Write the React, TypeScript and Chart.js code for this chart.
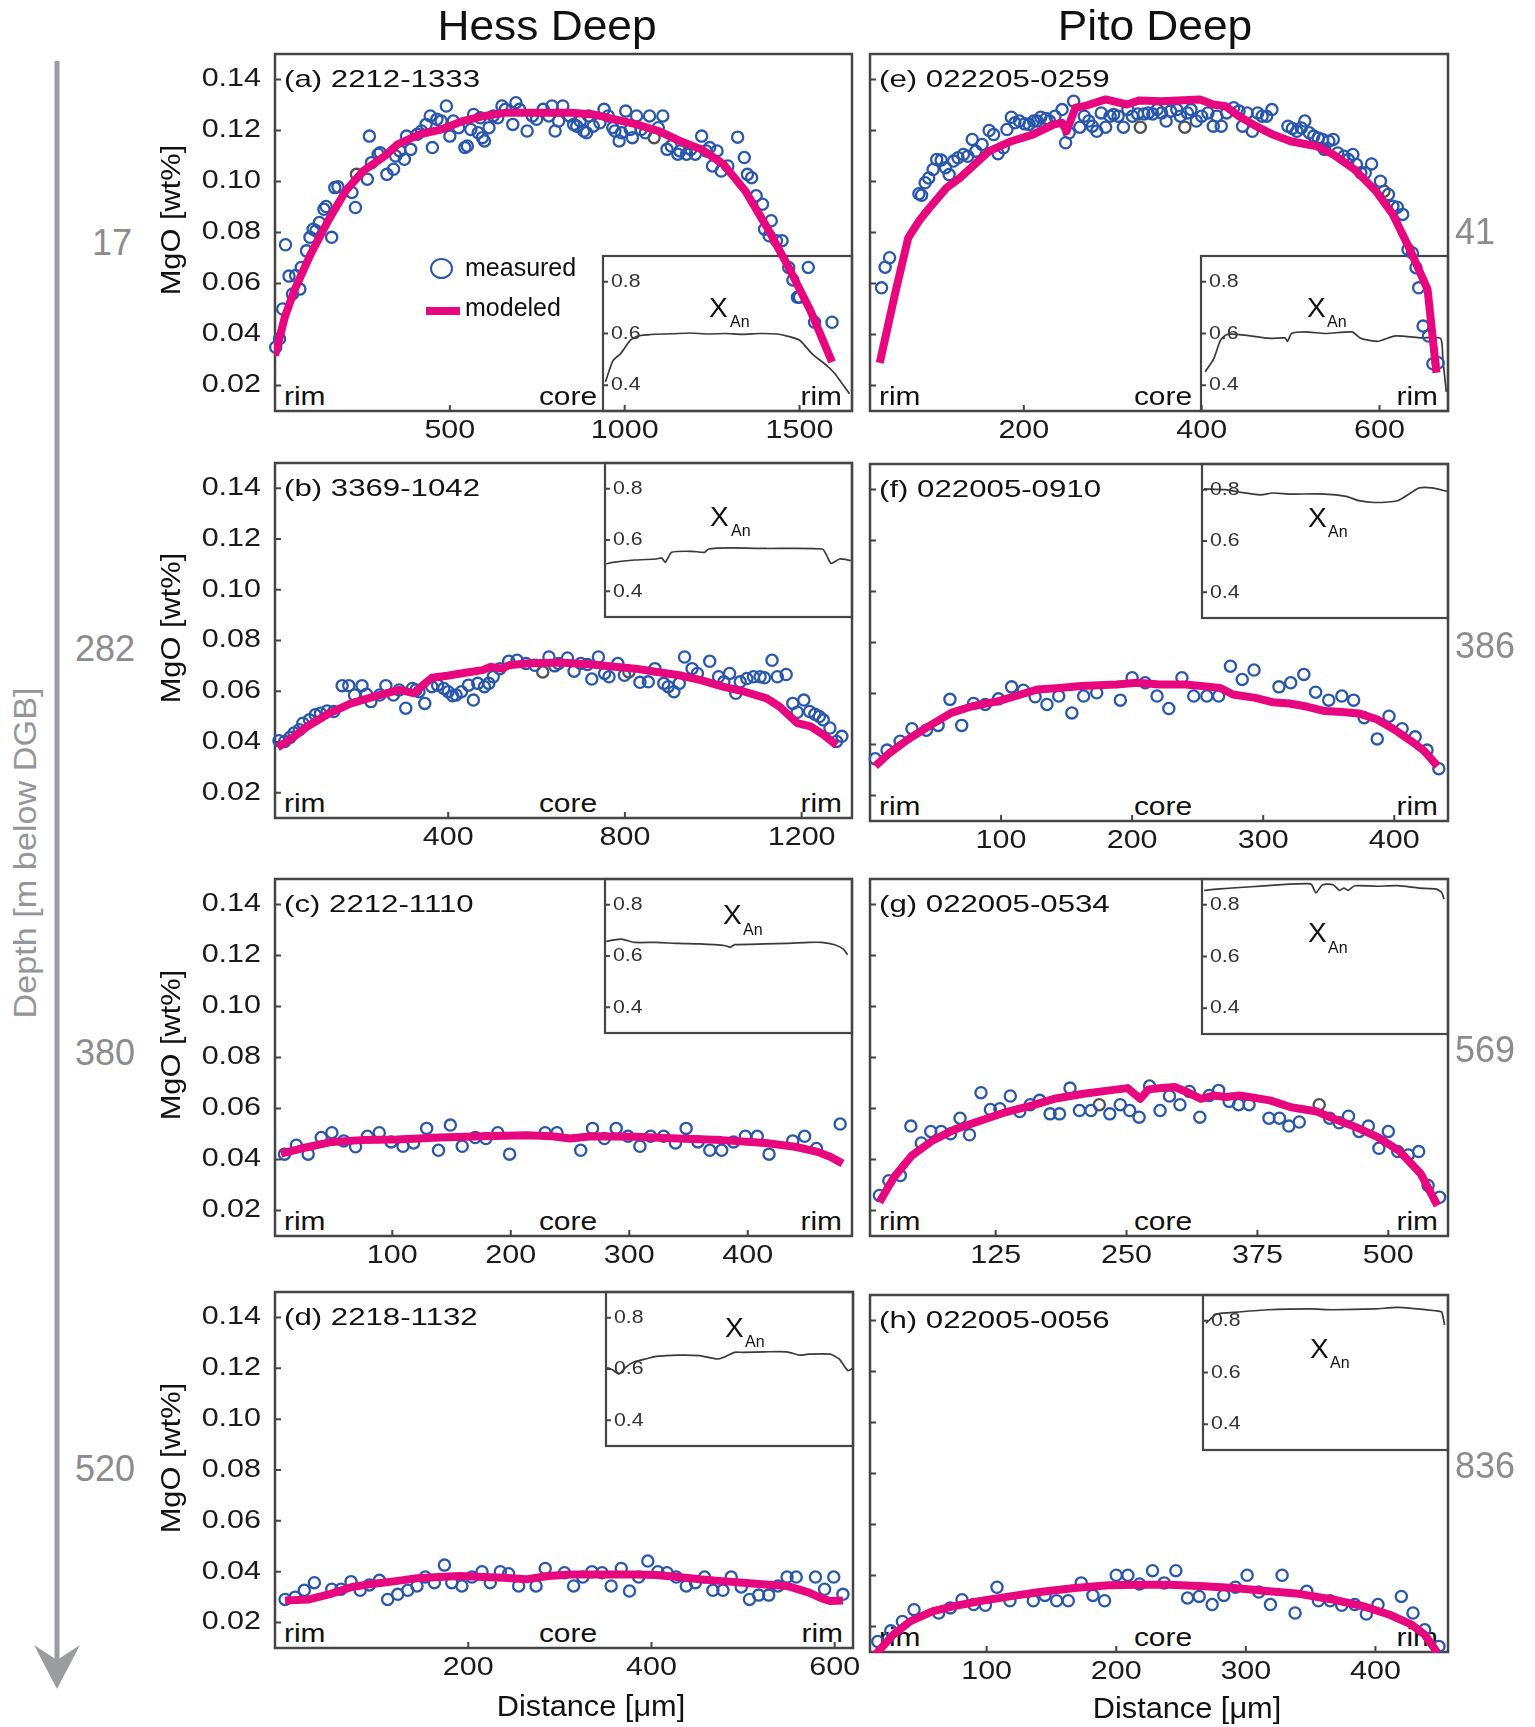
import React, { useEffect, useRef } from 'react';
import { Chart, registerables } from 'chart.js';
Chart.register(...registerables);

const FONT = '"Liberation Sans", Arial, Helvetica, sans-serif';
Chart.defaults.font.family = FONT;

const BLUE = '#2857ab';
const MAGENTA = '#e8067f';
const FRAME = '#454545';
const GRAYPT = '#505050';

// ---------- shared tick values ----------
const Y_TICKS = [0.02, 0.04, 0.06, 0.08, 0.1, 0.12, 0.14];
const INSET_TICKS = [0.4, 0.6, 0.8];
const A_XTICKS = [500, 1000, 1500];
const B_XTICKS = [400, 800, 1200];
const C_XTICKS = [100, 200, 300, 400];
const D_XTICKS = [200, 400, 600];
const E_XTICKS = [200, 400, 600];
const F_XTICKS = [100, 200, 300, 400];
const G_XTICKS = [125, 250, 375, 500];
const H_XTICKS = [100, 200, 300, 400];

// ---------- (a) 2212-1333 ----------
const aX = [2,13,22,30,40,50,59,71,75,90,100,109,117,127,140,146,162,171,180,220,230,264,270,276,295,301,320,339,345,357,370,376,388,407,419,432,444,450,463,475,490,500,510,525,543,550,560,568,581,587,593,599,612,624,637,649,659,680,689,699,721,736,748,767,783,792,801,811,823,842,854,863,873,883,891,897,910,929,941,953,966,972,984,991,1003,1016,1022,1034,1047,1059,1071,1096,1109,1121,1133,1152,1158,1177,1189,1202,1220,1233,1243,1251,1264,1276,1295,1323,1342,1351,1363,1376,1394,1400,1413,1419,1434,1450,1469,1481,1494,1500,1525,1543,1593];
const aY = [0.0350,0.0383,0.0500,0.0752,0.0629,0.0559,0.0631,0.0578,0.0663,0.0728,0.0781,0.0813,0.0807,0.0839,0.0891,0.0902,0.0781,0.0976,0.0979,0.0957,0.0898,0.1009,0.1178,0.1074,0.1107,0.1113,0.1028,0.1048,0.1100,0.1120,0.1087,0.1178,0.1126,0.1185,0.1198,0.1224,0.1257,0.1133,0.1244,0.1237,0.1296,0.1178,0.1237,0.1211,0.1133,0.1139,0.1204,0.1263,0.1191,0.1250,0.1172,0.1159,0.1211,0.1257,0.1250,0.1296,0.1283,0.1224,0.1309,0.1283,0.1198,0.1257,0.1244,0.1283,0.1257,0.1296,0.1198,0.1237,0.1296,0.1257,0.1224,0.1217,0.1237,0.1198,0.1191,0.1257,0.1217,0.1230,0.1283,0.1257,0.1211,0.1198,0.1159,0.1191,0.1276,0.1204,0.1172,0.1257,0.1204,0.1191,0.1257,0.1211,0.1257,0.1126,0.1139,0.1107,0.1120,0.1107,0.1126,0.1107,0.1178,0.1120,0.1133,0.1061,0.1120,0.1041,0.1061,0.1174,0.1094,0.1028,0.1015,0.0944,0.0911,0.0813,0.0787,0.0846,0.0768,0.0768,0.0663,0.0614,0.0546,0.0546,0.0663,0.0448,0.0448];
const aGrayX = [233, 1084];
const aGrayY = [0.1028, 0.1172];
const aModelX = [0,28,55,102,152,202,252,314,351,413,475,537,599,661,724,786,848,910,972,1034,1096,1158,1220,1283,1345,1407,1469,1531,1593];
const aModelY = [0.0318,0.0468,0.0572,0.0715,0.0846,0.0963,0.1041,0.1100,0.1146,0.1185,0.1204,0.1237,0.1257,0.1270,0.1270,0.1270,0.1270,0.1263,0.1244,0.1224,0.1198,0.1159,0.1126,0.1067,0.0963,0.0820,0.0663,0.0494,0.0292];
const aInsetX = [1,4,7,11,14,18,21,28,35,42,49,56,63,70,74,79,84,90,93,97,99];
const aInsetY = [0.413,0.495,0.521,0.574,0.590,0.595,0.597,0.599,0.602,0.598,0.600,0.597,0.600,0.598,0.590,0.574,0.521,0.475,0.446,0.393,0.367];

// ---------- (b) 3369-1042 ----------
const bX = [17,30,42,51,63,71,86,99,111,126,141,160,175,188,205,215,225,245,259,276,289,304,319,327,334,347,363,376,390,400,410,418,430,446,457,467,482,492,502,517,537,556,576,596,628,641,650,670,685,700,715,725,740,754,764,784,799,834,853,868,888,898,911,923,935,952,964,992,1012,1024,1037,1051,1061,1076,1091,1106,1116,1133,1145,1165,1180,1190,1205,1218,1230,1240,1249,1264,1279,1291];
const bY = [0.0405,0.0402,0.0418,0.0435,0.0448,0.0474,0.0487,0.0507,0.0513,0.0522,0.0520,0.0622,0.0622,0.0585,0.0622,0.0588,0.0559,0.0585,0.0622,0.0585,0.0605,0.0533,0.0611,0.0605,0.0598,0.0552,0.0618,0.0624,0.0611,0.0598,0.0582,0.0585,0.0598,0.0624,0.0565,0.0631,0.0618,0.0631,0.0657,0.0689,0.0718,0.0722,0.0709,0.0702,0.0735,0.0700,0.0709,0.0731,0.0679,0.0709,0.0705,0.0648,0.0735,0.0670,0.0657,0.0709,0.0663,0.0635,0.0637,0.0689,0.0631,0.0618,0.0598,0.0631,0.0735,0.0689,0.0670,0.0718,0.0657,0.0637,0.0670,0.0592,0.0637,0.0650,0.0657,0.0657,0.0653,0.0722,0.0657,0.0666,0.0552,0.0517,0.0565,0.0520,0.0509,0.0500,0.0487,0.0455,0.0402,0.0422];
const bGrayX = [614, 809];
const bGrayY = [0.0676, 0.0676];
const bModelX = [14,42,81,131,180,230,289,324,339,363,398,428,477,497,522,537,576,650,725,824,873,923,972,1022,1071,1121,1150,1190,1220,1249,1279];
const bModelY = [0.0379,0.0409,0.0461,0.0513,0.0552,0.0578,0.0605,0.0592,0.0618,0.0653,0.0661,0.0670,0.0683,0.0696,0.0689,0.0702,0.0709,0.0713,0.0705,0.0689,0.0676,0.0663,0.0644,0.0618,0.0598,0.0572,0.0539,0.0474,0.0461,0.0429,0.0387];
const bInsetX = [0.5,3.2,12,20.8,23,24.4,27,35,40.3,42,50.9,65,88,89.8,91.5,95,99.5];
const bInsetY = [0.507,0.513,0.522,0.526,0.530,0.513,0.552,0.556,0.552,0.565,0.569,0.567,0.565,0.539,0.509,0.526,0.520];

// ---------- (c) 2212-1110 ----------
const cX = [9,19,29,40,49,59,69,79,89,99,109,118,129,139,149,159,170,179,189,199,229,239,259,269,279,289,299,309,318,329,339,348,358,368,378,388,398,408,418,438,448,458,478];
const cY = [0.0421,0.0456,0.0421,0.0486,0.0505,0.0473,0.0450,0.0491,0.0505,0.0469,0.0452,0.0465,0.0522,0.0436,0.0535,0.0452,0.0486,0.0482,0.0505,0.0421,0.0505,0.0505,0.0436,0.0522,0.0482,0.0522,0.0491,0.0452,0.0491,0.0491,0.0465,0.0522,0.0469,0.0436,0.0436,0.0469,0.0491,0.0491,0.0421,0.0473,0.0491,0.0443,0.0539];
const cModelX = [6,23,49,74,104,140,177,213,235,250,268,305,341,378,415,440,459,470,480];
const cModelY = [0.0423,0.0443,0.0469,0.0476,0.0478,0.0486,0.0491,0.0495,0.0491,0.0482,0.0491,0.0489,0.0482,0.0476,0.0465,0.0450,0.0430,0.0410,0.0384];
const cInsetX = [0.5,3.2,6.7,12,20.8,29.6,38.4,48.9,50.7,52.5,64.8,73.6,82.4,87.7,93,96.5,98.2];
const cInsetY = [0.657,0.662,0.666,0.653,0.653,0.649,0.647,0.640,0.634,0.644,0.647,0.649,0.653,0.653,0.644,0.627,0.605];

// ---------- (d) 2218-1132 ----------
const dX = [0,11,21,32,51,61,72,82,92,103,112,123,134,144,153,163,174,182,193,204,215,224,235,244,255,274,284,305,315,325,335,346,356,367,376,386,396,407,417,427,438,448,458,467,478,487,498,507,517,528,538,548,558,579,589,599,609];
const dY = [0.0291,0.0300,0.0327,0.0357,0.0331,0.0331,0.0361,0.0327,0.0348,0.0366,0.0291,0.0311,0.0327,0.0344,0.0379,0.0357,0.0426,0.0357,0.0344,0.0379,0.0400,0.0357,0.0400,0.0392,0.0344,0.0344,0.0413,0.0396,0.0344,0.0379,0.0400,0.0396,0.0344,0.0413,0.0324,0.0379,0.0442,0.0400,0.0396,0.0379,0.0344,0.0357,0.0379,0.0327,0.0327,0.0379,0.0340,0.0291,0.0308,0.0308,0.0344,0.0379,0.0379,0.0379,0.0331,0.0379,0.0311];
const dModelX = [0,26,50,73,97,121,144,168,192,216,239,263,287,311,334,358,382,405,429,453,477,500,524,548,572,586,595,609];
const dModelY = [0.0287,0.0291,0.0313,0.0340,0.0353,0.0363,0.0374,0.0379,0.0383,0.0379,0.0376,0.0370,0.0383,0.0389,0.0389,0.0389,0.0389,0.0387,0.0379,0.0370,0.0363,0.0357,0.0350,0.0344,0.0318,0.0295,0.0285,0.0287];
const dInsetX = [0.5,2.6,5.3,7.9,11.5,16.8,20.3,29.1,37.9,45,48.5,52,55.6,64.4,73.2,78.5,82,90.8,94.4,97.9,100];
const dInsetY = [0.606,0.597,0.581,0.606,0.628,0.641,0.649,0.654,0.652,0.639,0.649,0.665,0.665,0.667,0.667,0.654,0.658,0.658,0.639,0.594,0.603];

// ---------- (e) 022205-0259 ----------
const eX = [40,44,49,82,85,89,93,98,102,107,112,116,121,126,132,137,142,146,153,161,166,171,177,181,186,190,195,201,206,211,215,219,225,229,235,243,247,251,256,263,268,273,277,282,287,292,297,301,306,312,317,322,328,335,340,345,350,355,360,365,372,376,384,388,394,400,407,413,417,422,428,436,442,446,451,457,463,468,473,479,497,502,507,512,516,521,526,531,536,538,543,548,553,560,565,570,574,579,584,591,601,610,615,620,626,632,637,641,644,649,655,660,666];
const eY = [0.0583,0.0664,0.0701,0.0952,0.0946,0.0995,0.1014,0.1047,0.1086,0.1084,0.1054,0.1027,0.1080,0.1093,0.1106,0.1099,0.1165,0.1119,0.1145,0.1200,0.1184,0.1109,0.1132,0.1204,0.1252,0.1230,0.1237,0.1226,0.1224,0.1237,0.1237,0.1252,0.1247,0.1237,0.1256,0.1282,0.1152,0.1191,0.1315,0.1213,0.1256,0.1237,0.1217,0.1197,0.1269,0.1213,0.1256,0.1263,0.1256,0.1213,0.1282,0.1256,0.1265,0.1265,0.1269,0.1265,0.1282,0.1269,0.1237,0.1276,0.1282,0.1256,0.1269,0.1282,0.1237,0.1256,0.1269,0.1217,0.1256,0.1217,0.1269,0.1289,0.1276,0.1217,0.1269,0.1197,0.1269,0.1256,0.1256,0.1282,0.1217,0.1208,0.1197,0.1210,0.1237,0.1191,0.1178,0.1171,0.1165,0.1126,0.1158,0.1165,0.1112,0.1099,0.1086,0.1106,0.1067,0.1034,0.1034,0.1069,0.1001,0.0949,0.0903,0.0899,0.0871,0.0733,0.0720,0.0662,0.0583,0.0433,0.0394,0.0285,0.0289];
const eGrayX = [331, 381, 605];
const eGrayY = [0.1213, 0.1213, 0.0962];
const eModelX = [38,55,70,82,94,113,128,161,186,210,234,243,248,258,268,292,316,330,355,398,413,427,442,461,480,500,519,529,548,572,596,615,635,654,664];
const eModelY = [0.0289,0.0557,0.0779,0.0845,0.0897,0.0975,0.1014,0.1119,0.1158,0.1184,0.1224,0.1230,0.1197,0.1289,0.1295,0.1322,0.1302,0.1318,0.1315,0.1322,0.1302,0.1295,0.1256,0.1217,0.1184,0.1158,0.1145,0.1139,0.1106,0.1047,0.0962,0.0871,0.0727,0.0577,0.0250];
const eInsetX = [1.7,5.2,7.9,10.5,15.7,28,34,35,36.7,42,50.7,61.2,64.7,71.7,78.7,89.2,97,97.9,99.3];
const eInsetY = [0.452,0.503,0.574,0.596,0.596,0.581,0.583,0.570,0.600,0.606,0.600,0.606,0.581,0.570,0.591,0.583,0.581,0.503,0.374];

// ---------- (f) 022005-0910 ----------
const fX = [4,13,23,32,43,52,61,70,79,88,98,108,117,126,135,144,154,163,173,191,200,210,219,228,238,247,257,266,275,284,293,312,321,331,340,350,360,369,377,387,396,406,416,425,434];
const fY = [0.0344,0.0378,0.0413,0.0462,0.0456,0.0475,0.0577,0.0475,0.0561,0.0557,0.0579,0.0626,0.0613,0.0587,0.0557,0.0590,0.0524,0.0590,0.0603,0.0574,0.0662,0.0642,0.0590,0.0541,0.0662,0.0590,0.0590,0.0590,0.0707,0.0655,0.0692,0.0626,0.0642,0.0675,0.0605,0.0574,0.0590,0.0574,0.0505,0.0422,0.0511,0.0462,0.0430,0.0378,0.0305];
const fModelX = [4,15,29,45,62,78,98,115,128,145,161,188,204,221,241,267,277,294,307,320,334,347,360,373,387,400,413,423,433];
const fModelY = [0.0315,0.0367,0.0420,0.0472,0.0524,0.0550,0.0570,0.0596,0.0616,0.0622,0.0629,0.0635,0.0642,0.0635,0.0635,0.0622,0.0596,0.0583,0.0566,0.0561,0.0548,0.0531,0.0527,0.0522,0.0498,0.0459,0.0413,0.0374,0.0315];
const fInsetX = [0.9,9.6,14.9,23.6,28.8,35.8,49.8,58.6,63.8,69.9,79.5,84.8,88.3,93.5,99.7];
const fInsetY = [0.803,0.800,0.791,0.780,0.787,0.783,0.783,0.774,0.757,0.750,0.757,0.787,0.807,0.807,0.793];

// ---------- (g) 022005-0534 ----------
const gX = [14,23,34,44,54,63,73,82,91,100,111,120,129,139,148,158,167,177,186,196,205,216,234,244,253,262,272,282,291,301,310,320,329,338,348,357,367,386,396,405,415,444,453,462,472,481,491,500,509,519,529,538,549];
const gY = [0.0259,0.0317,0.0337,0.0531,0.0465,0.0510,0.0510,0.0501,0.0562,0.0497,0.0662,0.0596,0.0599,0.0649,0.0588,0.0615,0.0632,0.0579,0.0579,0.0680,0.0592,0.0592,0.0579,0.0615,0.0592,0.0566,0.0688,0.0592,0.0649,0.0615,0.0667,0.0566,0.0651,0.0671,0.0628,0.0615,0.0615,0.0562,0.0562,0.0531,0.0547,0.0562,0.0544,0.0570,0.0510,0.0531,0.0444,0.0510,0.0431,0.0418,0.0431,0.0298,0.0252];
const gGrayX = [224, 434];
const gGrayY = [0.0615, 0.0615];
const gModelX = [14,28,45,65,86,111,135,160,181,209,234,251,263,271,284,296,308,321,333,345,358,387,407,432,448,469,490,510,531,547];
const gModelY = [0.0232,0.0331,0.0416,0.0475,0.0518,0.0553,0.0586,0.0612,0.0638,0.0658,0.0671,0.0680,0.0638,0.0675,0.0680,0.0684,0.0664,0.0638,0.0651,0.0645,0.0651,0.0632,0.0605,0.0588,0.0560,0.0527,0.0488,0.0435,0.0344,0.0219];
const gInsetX = [0.9,6.1,18.4,32.3,42.8,44.6,46.3,49,53.3,55.9,57.7,59.4,62.1,70.8,79.5,88.3,95.3,97.4,98.4];
const gInsetY = [0.856,0.861,0.869,0.878,0.882,0.878,0.846,0.878,0.878,0.856,0.865,0.856,0.874,0.872,0.874,0.865,0.861,0.848,0.822];

// ---------- (h) 022005-0056 ----------
const hX = [16,26,35,44,63,72,81,90,99,108,118,136,145,154,163,173,182,191,200,209,218,228,237,246,255,264,274,283,292,301,310,319,328,338,347,356,365,374,384,393,402,420,429,438,449];
const hY = [0.0141,0.0183,0.0220,0.0266,0.0253,0.0273,0.0305,0.0286,0.0283,0.0354,0.0301,0.0301,0.0322,0.0301,0.0301,0.0371,0.0322,0.0301,0.0401,0.0401,0.0367,0.0419,0.0371,0.0419,0.0312,0.0318,0.0286,0.0322,0.0354,0.0401,0.0335,0.0286,0.0401,0.0253,0.0338,0.0301,0.0301,0.0283,0.0286,0.0249,0.0286,0.0318,0.0253,0.0187,0.0122];
const hModelX = [14,28,41,58,74,94,118,141,168,194,218,241,268,291,318,341,368,391,411,428,438,448];
const hModelY = [0.0089,0.0168,0.0220,0.0259,0.0279,0.0299,0.0318,0.0335,0.0351,0.0362,0.0364,0.0364,0.0358,0.0351,0.0338,0.0328,0.0305,0.0279,0.0246,0.0207,0.0168,0.0096];
const hInsetX = [1.2,5.6,14.3,26.6,44,52.8,70.3,79,87.8,94.8,97.4,98.6];
const hInsetY = [0.791,0.826,0.834,0.843,0.846,0.843,0.846,0.852,0.846,0.839,0.834,0.784];

// ---------- labels ----------
const PANEL_LABELS = ['(a) 2212-1333', '(b) 3369-1042', '(c) 2212-1110', '(d) 2218-1132', '(e) 022205-0259', '(f) 022005-0910', '(g) 022005-0534', '(h) 022005-0056'];
const HESS_DEPTHS = ['17', '282', '380', '520'];
const PITO_DEPTHS = ['41', '386', '569', '836'];

type Panel = {
  box: number[]; xr: number[]; xt: number[]; showY: boolean;
  mX: number[]; mY: number[]; gX?: number[]; gY?: number[];
  lX: number[]; lY: number[]; iX: number[]; iY: number[];
  inset: number[]; xan: number[]; label: string;
};

const PANELS: Panel[] = [
  { box: [275, 54, 852, 411], xr: [0, 1650], xt: A_XTICKS, showY: true, mX: aX, mY: aY, gX: aGrayX, gY: aGrayY, lX: aModelX, lY: aModelY, iX: aInsetX, iY: aInsetY, inset: [603, 256, 852, 411], xan: [106, 62, 127, 72], label: PANEL_LABELS[0] },
  { box: [275, 463, 852, 818], xr: [8, 1314], xt: B_XTICKS, showY: true, mX: bX, mY: bY, gX: bGrayX, gY: bGrayY, lX: bModelX, lY: bModelY, iX: bInsetX, iY: bInsetY, inset: [605, 463, 852, 617], xan: [105, 64, 126, 74], label: PANEL_LABELS[1] },
  { box: [275, 879, 852, 1236], xr: [1, 488], xt: C_XTICKS, showY: true, mX: cX, mY: cY, lX: cModelX, lY: cModelY, iX: cInsetX, iY: cInsetY, inset: [605, 879, 852, 1033], xan: [118, 46, 138, 57], label: PANEL_LABELS[2] },
  { box: [275, 1292, 853, 1648], xr: [-11, 620], xt: D_XTICKS, showY: true, mX: dX, mY: dY, lX: dModelX, lY: dModelY, iX: dInsetX, iY: dInsetY, inset: [606, 1292, 853, 1446], xan: [119, 46, 139, 56], label: PANEL_LABELS[3] },
  { box: [870, 54, 1448, 411], xr: [27, 677], xt: E_XTICKS, showY: false, mX: eX, mY: eY, gX: eGrayX, gY: eGrayY, lX: eModelX, lY: eModelY, iX: eInsetX, iY: eInsetY, inset: [1201, 256, 1448, 411], xan: [106, 62, 126, 72], label: PANEL_LABELS[4] },
  { box: [870, 464, 1448, 821], xr: [0, 441], xt: F_XTICKS, showY: false, mX: fX, mY: fY, lX: fModelX, lY: fModelY, iX: fInsetX, iY: fInsetY, inset: [1202, 464, 1448, 618], xan: [106, 64, 126, 74], label: PANEL_LABELS[5] },
  { box: [870, 879, 1448, 1236], xr: [5, 557], xt: G_XTICKS, showY: false, mX: gX, mY: gY, gX: gGrayX, gY: gGrayY, lX: gModelX, lY: gModelY, iX: gInsetX, iY: gInsetY, inset: [1202, 879, 1448, 1034], xan: [106, 64, 126, 75], label: PANEL_LABELS[6] },
  { box: [870, 1295, 1448, 1652], xr: [10, 456], xt: H_XTICKS, showY: false, mX: hX, mY: hY, lX: hModelX, lY: hModelY, iX: hInsetX, iY: hInsetY, inset: [1203, 1295, 1448, 1450], xan: [107, 64, 127, 74], label: PANEL_LABELS[7] },
];

const pts = (xs: number[], ys: number[]) => {
  const n = Math.min(xs.length, ys.length);
  const out: { x: number; y: number }[] = [];
  for (let i = 0; i < n; i++) out.push({ x: xs[i], y: ys[i] });
  return out;
};

// Frame, inward tick marks and horizontally widened tick text (as in the reference typeface)
const framePlugin = {
  id: 'frame',
  beforeDraw(chart: any, _a: any, opts: any) {
    const ctx: any = chart.ctx;
    if (!ctx.__patched) {
      const orig = ctx.fillText.bind(ctx);
      ctx.fillText = (text: string, x: number, y: number, maxWidth?: number) => {
        const sx = ctx.__sx || 1;
        if (sx === 1) {
          if (maxWidth === undefined) orig(text, x, y); else orig(text, x, y, maxWidth);
          return;
        }
        ctx.save();
        ctx.translate(x, y);
        ctx.scale(sx, 1);
        orig(text, 0, 0);
        ctx.restore();
      };
      ctx.__patched = true;
    }
    ctx.__sx = opts.sx || 1;
  },
  beforeDatasetsDraw(chart: any, _a: any, opts: any) {
    const { ctx, chartArea: a, scales } = chart;
    ctx.save();
    ctx.strokeStyle = FRAME;
    ctx.lineWidth = opts.lw;
    ctx.strokeRect(a.left, a.top, a.right - a.left, a.bottom - a.top);
    ctx.lineWidth = 2;
    ctx.beginPath();
    for (const t of scales.y.ticks) {
      const py = scales.y.getPixelForValue(t.value);
      ctx.moveTo(a.left, py);
      ctx.lineTo(a.left + opts.tick, py);
    }
    if (opts.xTicks) {
      for (const t of scales.x.ticks) {
        const px = scales.x.getPixelForValue(t.value);
        ctx.moveTo(px, a.bottom);
        ctx.lineTo(px, a.bottom - opts.tick);
      }
    }
    ctx.stroke();
    ctx.restore();
  },
};

const PAD = 40;
const YW = 100;
const XH = 50;

function MainChart({ p }: { p: Panel }) {
  const ref = useRef<HTMLCanvasElement>(null);
  const [L, T, R, B] = p.box;
  const w = R - L;
  const h = B - T;
  useEffect(() => {
    const datasets: any[] = [
      { type: 'line', data: pts(p.lX, p.lY), borderColor: MAGENTA, borderWidth: 8, pointRadius: 0, fill: false, tension: 0, clip: 1, borderJoinStyle: 'round' },
      { type: 'scatter', data: pts(p.mX, p.mY), borderColor: BLUE, backgroundColor: 'rgba(0,0,0,0)', borderWidth: 2.3, pointRadius: 5.6, clip: 10 },
    ];
    if (p.gX && p.gY) {
      datasets.push({ type: 'scatter', data: pts(p.gX, p.gY), borderColor: GRAYPT, backgroundColor: 'rgba(0,0,0,0)', borderWidth: 2.3, pointRadius: 5.6, clip: 10 });
    }
    const chart = new Chart(ref.current as HTMLCanvasElement, {
      type: 'scatter',
      data: { datasets },
      options: {
        animation: false,
        responsive: false,
        events: [],
        layout: { padding: { left: 0, top: PAD, right: PAD, bottom: 0 }, autoPadding: false },
        plugins: { legend: { display: false }, tooltip: { enabled: false }, frame: { lw: 2.5, tick: 6, xTicks: true, sx: 1.22 } } as any,
        scales: {
          x: {
            type: 'linear', min: p.xr[0], max: p.xr[1],
            grid: { display: false, drawTicks: false }, border: { display: false },
            ticks: { font: { size: 25, family: FONT }, color: '#1a1a1a', padding: 5, maxRotation: 0, minRotation: 0, autoSkip: false, callback: (v: any) => String(v) },
            afterBuildTicks: (s: any) => { s.ticks = p.xt.map((v) => ({ value: v })); },
            afterFit: (s: any) => { s.height = XH; },
          },
          y: {
            type: 'linear', min: 0.01, max: 0.15,
            grid: { display: false, drawTicks: false }, border: { display: false },
            ticks: { font: { size: 25, family: FONT }, color: '#1a1a1a', padding: 14, autoSkip: false, callback: (v: any) => (p.showY ? Number(v).toFixed(2) : '') },
            afterBuildTicks: (s: any) => { s.ticks = Y_TICKS.map((v) => ({ value: v })); },
            afterFit: (s: any) => { s.width = YW; },
          },
        } as any,
      },
      plugins: [framePlugin as any],
    });
    return () => chart.destroy();
  }, []);
  return (
    <canvas ref={ref} width={w + YW + PAD} height={h + PAD + XH}
      style={{ position: 'absolute', left: L - YW, top: T - PAD, zIndex: 2, display: 'block' }} />
  );
}

function InsetChart({ p }: { p: Panel }) {
  const ref = useRef<HTMLCanvasElement>(null);
  const [L, T, R, B] = p.inset;
  const w = R - L;
  const h = B - T;
  const P = 30;
  useEffect(() => {
    const chart = new Chart(ref.current as HTMLCanvasElement, {
      type: 'line',
      data: { datasets: [{ data: pts(p.iX, p.iY), borderColor: '#3a3a3a', borderWidth: 1.7, pointRadius: 0, fill: false, tension: 0.2, clip: 2 } as any] },
      options: {
        animation: false,
        responsive: false,
        events: [],
        layout: { padding: { left: P, top: P, right: P, bottom: P }, autoPadding: false },
        plugins: { legend: { display: false }, tooltip: { enabled: false }, frame: { lw: 2.2, tick: 5, xTicks: false, sx: 1.12 } } as any,
        scales: {
          x: { type: 'linear', min: 0, max: 100, display: false },
          y: {
            type: 'linear', min: 0.3, max: 0.9,
            grid: { display: false, drawTicks: false }, border: { display: false },
            ticks: { mirror: true, padding: 8, font: { size: 19, family: FONT }, color: '#333', autoSkip: false, callback: (v: any) => Number(v).toFixed(1) },
            afterBuildTicks: (s: any) => { s.ticks = INSET_TICKS.map((v) => ({ value: v })); },
            afterFit: (s: any) => { s.width = 0; },
          },
        } as any,
      },
      plugins: [framePlugin as any],
    });
    return () => chart.destroy();
  }, []);
  return (
    <canvas ref={ref} width={w + 2 * P} height={h + 2 * P}
      style={{ position: 'absolute', left: L - P, top: T - P, zIndex: 1, display: 'block' }} />
  );
}

type TP = { x: number; y: number; size: number; text: React.ReactNode; anchor?: 'left' | 'center' | 'right'; sx?: number; color?: string; z?: number };
function Txt({ x, y, size, text, anchor = 'left', sx = 1, color = '#111', z = 3 }: TP) {
  const tx = anchor === 'left' ? '' : anchor === 'center' ? 'translateX(-50%) ' : 'translateX(-100%) ';
  return (
    <div style={{ position: 'absolute', left: x, top: y - 0.8465 * size, fontFamily: FONT, fontSize: size, lineHeight: `${size}px`, whiteSpace: 'nowrap', color, transform: `${tx}scaleX(${sx})`, transformOrigin: anchor, zIndex: z }}>{text}</div>
  );
}

function RotTxt({ x, y, size, text, sx = 1, color = '#111' }: { x: number; y: number; size: number; text: string; sx?: number; color?: string }) {
  return (
    <div style={{ position: 'absolute', left: x, top: y, fontFamily: FONT, fontSize: size, lineHeight: `${size}px`, whiteSpace: 'nowrap', color, transform: `translate(-50%,-50%) rotate(-90deg) scaleX(${sx})`, zIndex: 3 }}>{text}</div>
  );
}

const Y_TITLE_CY = [220, 628, 1045, 1458];
const HESS_DEPTH_POS = [[112, 255], [105, 661], [105, 1065], [105, 1481]];
const PITO_DEPTH_POS = [[1475, 244], [1485, 658], [1485, 1062], [1485, 1478]];

export default function App() {
  return (
    <div style={{ position: 'absolute', left: 0, top: 0, width: 1535, height: 1727, background: '#fff', overflow: 'hidden' }}>
      <Txt x={547} y={40} size={43} text="Hess Deep" anchor="center" sx={1.03} />
      <Txt x={1155} y={40} size={43} text="Pito Deep" anchor="center" sx={1.03} />

      <svg width={100} height={1727} style={{ position: 'absolute', left: 0, top: 0, zIndex: 1 }}>
        <line x1={57} y1={61} x2={57} y2={1662} stroke="#9a9ca0" strokeWidth={5} />
        <path d="M57 1689 L34 1645 L57 1660 L80 1645 Z" fill="#9a9ca0" />
      </svg>
      <RotTxt x={25} y={853} size={32} text="Depth [m below DGB]" sx={1.07} color="#94969a" />

      {HESS_DEPTHS.map((d, i) => (
        <Txt key={'hd' + i} x={HESS_DEPTH_POS[i][0]} y={HESS_DEPTH_POS[i][1]} size={36} text={d} anchor="center" color="#8c8c8c" />
      ))}
      {PITO_DEPTHS.map((d, i) => (
        <Txt key={'pd' + i} x={PITO_DEPTH_POS[i][0]} y={PITO_DEPTH_POS[i][1]} size={36} text={d} anchor="center" color="#8c8c8c" />
      ))}
      {Y_TITLE_CY.map((cy, i) => (
        <RotTxt key={'yt' + i} x={171} y={cy} size={28} text="MgO [wt%]" sx={1.1} />
      ))}

      {PANELS.map((p, i) => {
        const [L, T, R, B] = p.box;
        const [IL, IT] = p.inset;
        return (
          <React.Fragment key={'p' + i}>
            <InsetChart p={p} />
            <MainChart p={p} />
            <Txt x={L + 9} y={T + 33} size={24} text={p.label} sx={1.3} />
            <Txt x={L + 9} y={B - 6} size={26} text="rim" sx={1.15} z={1} />
            <Txt x={(L + R) / 2 + 4} y={B - 6} size={26} text="core" anchor="center" sx={1.15} z={1} />
            <Txt x={R - 10} y={B - 6} size={26} text="rim" anchor="right" sx={1.15} z={1} />
            <Txt x={IL + p.xan[0]} y={IT + p.xan[1]} size={28} text="X" />
            <Txt x={IL + p.xan[2]} y={IT + p.xan[3]} size={16} text="An" />
          </React.Fragment>
        );
      })}

      {/* legend of panel (a) */}
      <div style={{ position: 'absolute', left: 430, top: 258, width: 19, height: 17, border: `2.4px solid ${BLUE}`, borderRadius: '50%', zIndex: 3 }} />
      <Txt x={465} y={276} size={25} text="measured" />
      <div style={{ position: 'absolute', left: 426, top: 307, width: 34, height: 8, background: MAGENTA, zIndex: 3 }} />
      <Txt x={465} y={316} size={25} text="modeled" />

      <Txt x={591} y={1717} size={29} text="Distance [μm]" anchor="center" sx={1.06} />
      <Txt x={1187} y={1719} size={29} text="Distance [μm]" anchor="center" sx={1.06} />
    </div>
  );
}
